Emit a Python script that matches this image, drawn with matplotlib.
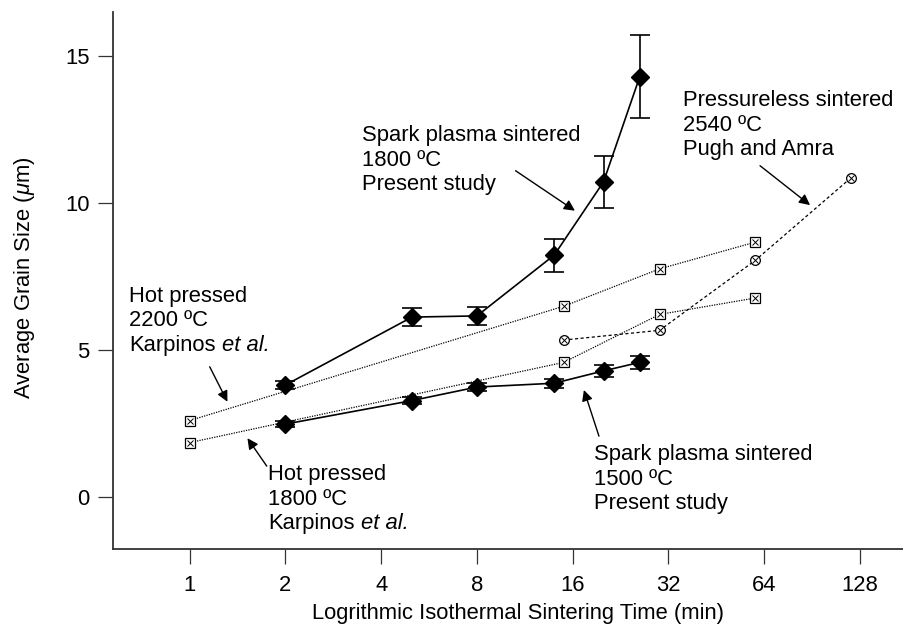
import numpy as np
import matplotlib
matplotlib.use("Agg")
import matplotlib.pyplot as plt

plt.rcParams['font.family'] = ['Liberation Sans', 'DejaVu Sans']
plt.rcParams['mathtext.fontset'] = 'custom'
plt.rcParams['mathtext.rm'] = 'Liberation Sans'
plt.rcParams['mathtext.it'] = 'Liberation Sans:italic'

# Spark plasma sintered, 1800 ºC (present study)
sps1800_t = [2, 5, 8, 14, 20, 26]
sps1800_d = [3.81, 6.12, 6.16, 8.23, 10.72, 14.3]
sps1800_err = [0.15, 0.31, 0.31, 0.56, 0.88, 1.42]

# Spark plasma sintered, 1500 ºC (present study)
sps1500_t = [2, 5, 8, 14, 20, 26]
sps1500_d = [2.48, 3.28, 3.74, 3.87, 4.29, 4.58]
sps1500_err = [0.1, 0.12, 0.15, 0.15, 0.2, 0.22]

# Hot pressed, 2200 ºC (Karpinos et al.)
hp2200_t = [1, 15, 30, 60]
hp2200_d = [2.6, 6.49, 7.76, 8.67]

# Hot pressed, 1800 ºC (Karpinos et al.)
hp1800_t = [1, 15, 30, 60]
hp1800_d = [1.85, 4.58, 6.21, 6.77]

# Pressureless sintered, 2540 ºC (Pugh and Amra)
pugh_t = [15, 30, 60, 120]
pugh_d = [5.34, 5.67, 8.05, 10.86]

x_ticks = [1, 2, 4, 8, 16, 32, 64, 128]
y_ticks = [0, 5, 10, 15]

fig = plt.figure(figsize=(9.04, 6.25), dpi=100)
ax = fig.add_axes([0.125, 0.1216, 0.896, 0.8592])

ax.set_xscale('log', base=2)
ax.set_xlim(0.574, 202)
ax.set_ylim(-1.77, 16.5)

def boxed_marker(t, d, ls, base):
    ax.plot(t, d, linestyle=ls, color='black', lw=0.9, marker=base,
            ms=7, mfc='white', mec='black', mew=0.9, zorder=3, clip_on=False)
    ax.plot(t, d, linestyle='none', marker='x', ms=5 if base == 's' else 4,
            mec='black', mew=0.7, zorder=4, clip_on=False)

boxed_marker(hp2200_t, hp2200_d, (0, (1, 1)), 's')
boxed_marker(hp1800_t, hp1800_d, (0, (1, 1)), 's')
boxed_marker(pugh_t, pugh_d, (0, (2.5, 2)), 'o')

for t, d, e in [(sps1800_t, sps1800_d, sps1800_err), (sps1500_t, sps1500_d, sps1500_err)]:
    ax.errorbar(t, d, yerr=e, color='black', lw=1.2, marker='D', ms=9,
                mfc='black', mec='black', capsize=7, capthick=1.2, elinewidth=1.2, zorder=5)

fs = 15.8
line_step = 17.6  # points between baselines of the annotation lines
arrow = dict(arrowstyle='-|>', color='black', lw=1.0, mutation_scale=16,
             shrinkA=0, shrinkB=0)

def label(x, y, lines, italic_tail=None):
    last = None
    for i, line in enumerate(lines):
        last = ax.annotate(line, xy=(x, y), xycoords='data',
                           xytext=(0, -line_step * i), textcoords='offset points',
                           fontsize=fs, va='top', ha='left')
    if italic_tail:
        ax.annotate(italic_tail, xy=(1, 0), xycoords=last, xytext=(4.4, 0),
                    textcoords='offset points', fontsize=fs, fontstyle='italic',
                    va='bottom', ha='left')

label(0.644, 7.19, ["Hot pressed", "2200 ºC", "Karpinos"], "et al.")
ax.annotate('', xy=(1.314, 3.24), xytext=(1.156, 4.43), arrowprops=arrow)

label(3.475, 12.65, ["Spark plasma sintered", "1800 ºC", "Present study"])
ax.annotate('', xy=(16.26, 9.74), xytext=(10.58, 11.10), arrowprops=arrow)

label(35.6, 13.83, ["Pressureless sintered", "2540 ºC", "Pugh and Amra"])
ax.annotate('', xy=(89.2, 9.93), xytext=(62.1, 11.27), arrowprops=arrow)

label(1.767, 1.12, ["Hot pressed", "1800 ºC", "Karpinos"], "et al.")
ax.annotate('', xy=(1.519, 2.0), xytext=(1.747, 1.05), arrowprops=arrow)

label(18.61, 1.80, ["Spark plasma sintered", "1500 ºC", "Present study"])
ax.annotate('', xy=(17.35, 3.64), xytext=(19.35, 2.07), arrowprops=arrow)

ax.set_xticks(x_ticks)
ax.set_xticklabels([str(v) for v in x_ticks])
ax.xaxis.set_minor_locator(matplotlib.ticker.NullLocator())
ax.set_yticks(y_ticks)
ax.set_yticklabels([str(v) for v in y_ticks])

for side in ('top', 'right'):
    ax.spines[side].set_visible(False)
for side in ('left', 'bottom'):
    ax.spines[side].set_linewidth(1.3)
    ax.spines[side].set_color('#333333')

ax.tick_params(axis='both', direction='out', length=11, width=0.9,
               color='#333333', labelsize=fs)
ax.tick_params(axis='x', pad=8)
ax.tick_params(axis='y', pad=6)

ax.set_xlabel("Logrithmic Isothermal Sintering Time (min)", fontsize=fs, labelpad=4.5)
ax.set_ylabel("Average Grain Size ($\\mu$m)", fontsize=fs)
ax.yaxis.set_label_coords(-0.094, 0.505)

fig.savefig("out.png", dpi=100)
